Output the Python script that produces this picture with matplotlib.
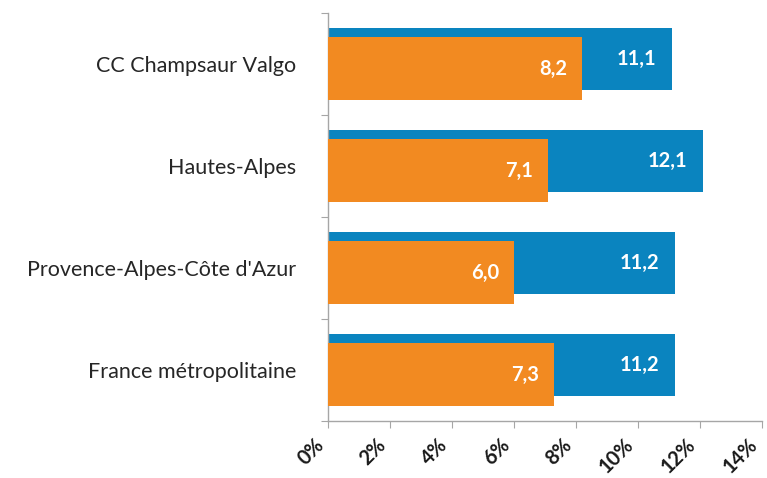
import matplotlib.pyplot as plt
import numpy as np

CATEGORIES = ["CC Champsaur Valgo", "Hautes-Alpes", "Provence-Alpes-Côte d'Azur", "France métropolitaine"]
BLUE_VALUES = [11.1, 12.1, 11.2, 11.2]
ORANGE_VALUES = [8.2, 7.1, 6.0, 7.3]
X_TICKS = [0, 2, 4, 6, 8, 10, 12, 14]

BLUE = "#0A84BF"
ORANGE = "#F28A21"
GREY = "#A6A6A6"


def fmt(v):
    return f"{v:.1f}".replace(".", ",")


def main() -> None:
    plt.rcParams["font.family"] = ["Lato", "DejaVu Sans"]
    fig = plt.figure(figsize=(7.67, 4.78), dpi=100)
    ax = fig.add_axes([328 / 767, 1 - 421 / 478, 434 / 767, 408 / 478])

    pos = np.arange(len(CATEGORIES)) + 0.5
    bar_h = 0.61
    ax.barh(pos - 0.05, BLUE_VALUES, height=bar_h, color=BLUE, zorder=2)
    ax.barh(pos + 0.045, ORANGE_VALUES, height=bar_h, color=ORANGE, zorder=3)

    for p, b, o in zip(pos, BLUE_VALUES, ORANGE_VALUES):
        ax.text(b - 0.52, p - 0.05, fmt(b), color="white", fontsize=14.5, fontweight="bold",
                ha="right", va="center", zorder=4)
        ax.text(o - 0.48, p + 0.045, fmt(o), color="white", fontsize=14.5, fontweight="bold",
                ha="right", va="center", zorder=4)

    ax.set_xlim(0, 14)
    ax.set_ylim(len(CATEGORIES), 0)
    ax.set_xticks(X_TICKS)
    ax.set_xticklabels([f"{t}%" for t in X_TICKS], rotation=45, ha="right",
                       fontsize=14.5, fontweight="bold", color="#1a1a1a")
    ax.tick_params(axis="x", length=5, color=GREY, pad=5)

    ax.set_yticks(np.arange(len(CATEGORIES) + 1))
    ax.set_yticklabels([])
    ax.set_yticks(pos, minor=True)
    ax.set_yticklabels(CATEGORIES, minor=True, fontsize=15.5, color="#262626")
    ax.tick_params(axis="y", which="major", length=5, color=GREY)
    ax.tick_params(axis="y", which="minor", length=0, pad=23)

    for side in ["top", "right"]:
        ax.spines[side].set_visible(False)
    for side in ["left", "bottom"]:
        ax.spines[side].set_color(GREY)
        ax.spines[side].set_linewidth(1.0)

    fig.savefig("out.png", dpi=100)
    plt.close(fig)


if __name__ == "__main__":
    main()
